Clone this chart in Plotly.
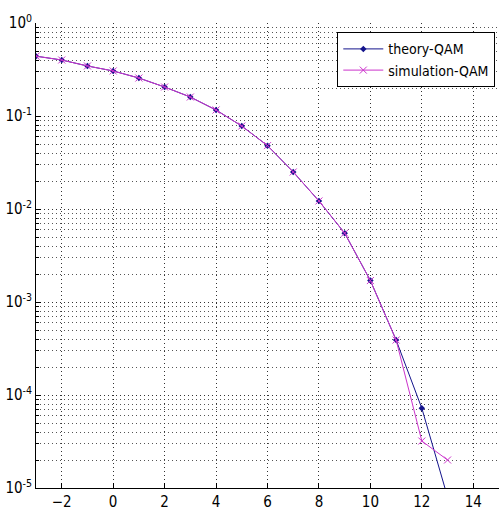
import plotly.graph_objects as go

snr_db = [-3, -2, -1, 0, 1, 2, 3, 4, 5, 6, 7, 8, 9, 10, 11, 12, 13]
theory_ser = [0.44, 0.40, 0.345, 0.305, 0.256, 0.205, 0.16, 0.116, 0.078, 0.048,
              0.025, 0.0122, 0.0055, 0.0017, 0.00039, 7.2e-5, 8e-6]
sim_ser = [0.44, 0.40, 0.345, 0.305, 0.256, 0.205, 0.16, 0.116, 0.078, 0.048,
           0.025, 0.0122, 0.0055, 0.0017, 0.00039, 3.2e-5, 2.0e-5]

x_ticks = [-2, 0, 2, 4, 6, 8, 10, 12, 14]
y_major = [1e-5, 1e-4, 1e-3, 1e-2, 1e-1, 1]
y_major_text = ["10<sup>-5</sup>", "10<sup>-4</sup>", "10<sup>-3</sup>",
                "10<sup>-2</sup>", "10<sup>-1</sup>", "10<sup>0</sup>"]
y_minor = [m * 10.0 ** e for e in range(-5, 0) for m in range(2, 10)]

narrow = "DejaVu Sans Condensed, sans-serif"

fig = go.Figure()
fig.add_trace(go.Scatter(
    x=snr_db, y=theory_ser, mode="lines+markers", name="theory-QAM",
    line=dict(color="#14148c", width=1),
    marker=dict(symbol="diamond", size=5, color="#14148c"),
))
fig.add_trace(go.Scatter(
    x=snr_db, y=sim_ser, mode="lines+markers", name="simulation-QAM",
    line=dict(color="#cc33cc", width=1),
    marker=dict(symbol="x-thin-open", size=7, color="#cc33cc",
                line=dict(color="#cc33cc", width=1)),
))

grid_dash = "1px,3px"
fig.update_layout(
    width=501, height=512,
    margin=dict(l=36, r=2, t=23, b=24),
    paper_bgcolor="white", plot_bgcolor="white",
    font=dict(family=narrow, size=15, color="black"),
    showlegend=True,
    legend=dict(
        x=0.992, y=0.98, xanchor="right", yanchor="top",
        bgcolor="white", bordercolor="black", borderwidth=1,
        font=dict(family=narrow, size=14), itemwidth=40, tracegroupgap=0,
    ),
    xaxis=dict(
        range=[-3, 15], tickvals=x_ticks, ticks="inside", ticklen=5,
        tickcolor="black", showline=True, linecolor="black", linewidth=1,
        showgrid=True, gridcolor="#333333", gridwidth=1, griddash=grid_dash,
        zeroline=False, tickfont=dict(family=narrow, size=15),
    ),
    yaxis=dict(
        type="log", range=[-5, 0], tickvals=y_major, ticktext=y_major_text,
        ticks="inside", ticklen=5, tickcolor="black",
        showline=True, linecolor="black", linewidth=1,
        showgrid=True, gridcolor="#333333", gridwidth=1, griddash=grid_dash,
        zeroline=False, tickfont=dict(family=narrow, size=15),
        minor=dict(tickmode="array", tickvals=y_minor, ticks="inside", ticklen=3,
                   tickcolor="black", showgrid=True, gridcolor="#555555",
                   gridwidth=1, griddash=grid_dash),
    ),
)

fig.write_html("out.html")
